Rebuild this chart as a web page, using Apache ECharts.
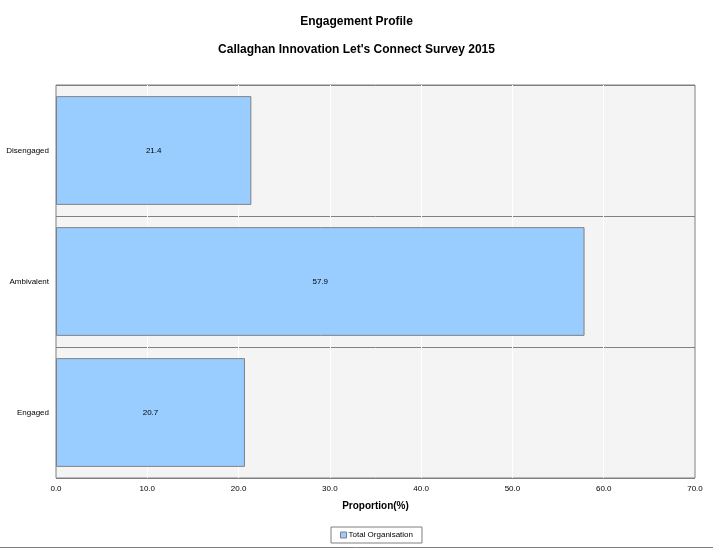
<!DOCTYPE html>
<html><head><meta charset="utf-8">
<script src="https://cdn.jsdelivr.net/npm/echarts@6/dist/echarts.min.js"></script>
<style>html,body{margin:0;padding:0;background:#fff}#c{width:713px;height:549px}</style>
</head><body><div id="c"></div>
<script>
const categories = ['Engaged', 'Ambivalent', 'Disengaged'];
const values = [20.7, 57.9, 21.4];
const seriesName = 'Total Organisation';
const xTicks = { min: 0, max: 70, interval: 10 };

const chart = echarts.init(document.getElementById('c'), null, { renderer: 'canvas' });
const font = 'Liberation Sans, Arial, sans-serif';
chart.setOption({
  animation: false,
  backgroundColor: '#ffffff',
  textStyle: { fontFamily: font },
  title: [
    { text: 'Engagement Profile', left: 'center', top: 11, textStyle: { fontSize: 12, fontWeight: 'bold', color: '#000', fontFamily: font } },
    { text: "Callaghan Innovation Let's Connect Survey 2015", left: 'center', top: 39, textStyle: { fontSize: 12, fontWeight: 'bold', color: '#000', fontFamily: font } }
  ],
  grid: { left: 56, right: 18, top: 85, bottom: 71, show: true, backgroundColor: '#f4f4f4', borderColor: '#808080', borderWidth: 1, containLabel: false },
  xAxis: {
    type: 'value', min: xTicks.min, max: xTicks.max, interval: xTicks.interval,
    name: 'Proportion(%)', nameLocation: 'middle', nameGap: 23,
    nameTextStyle: { fontSize: 10, fontWeight: 'bold', color: '#000', fontFamily: font },
    axisLine: { show: false }, axisTick: { show: false },
    axisLabel: { fontSize: 8, color: '#000', margin: 7, formatter: v => v.toFixed(1) },
    splitLine: { show: true, showMinLine: false, showMaxLine: false, lineStyle: { color: '#ffffff', width: 1 } }
  },
  yAxis: {
    type: 'category', data: categories,
    axisLine: { show: false }, axisTick: { show: false },
    axisLabel: { fontSize: 8, color: '#000', margin: 7 },
    splitLine: { show: true, lineStyle: { color: '#808080', width: 1 } }
  },
  legend: {
    bottom: 6, left: 331, data: [seriesName],
    borderColor: '#808080', borderWidth: 1, padding: [4, 9, 4, 9],
    itemWidth: 6, itemHeight: 6, itemGap: 2,
    icon: 'rect',
    itemStyle: { borderColor: '#808080', borderWidth: 1 },
    textStyle: { fontSize: 8, color: '#000', padding: [0, 0, 0, -3], fontFamily: font }
  },
  series: [{
    name: seriesName, type: 'bar', data: values, barCategoryGap: '17%',
    itemStyle: { color: '#99ccff', borderColor: '#808080', borderWidth: 1 },
    label: { show: true, position: 'inside', fontSize: 8, color: '#000', formatter: p => p.value.toFixed(1) }
  }],
  graphic: [{ type: 'line', shape: { x1: 0, y1: 547.5, x2: 713, y2: 547.5 }, style: { stroke: '#808080', lineWidth: 1 } }]
});
</script></body></html>
